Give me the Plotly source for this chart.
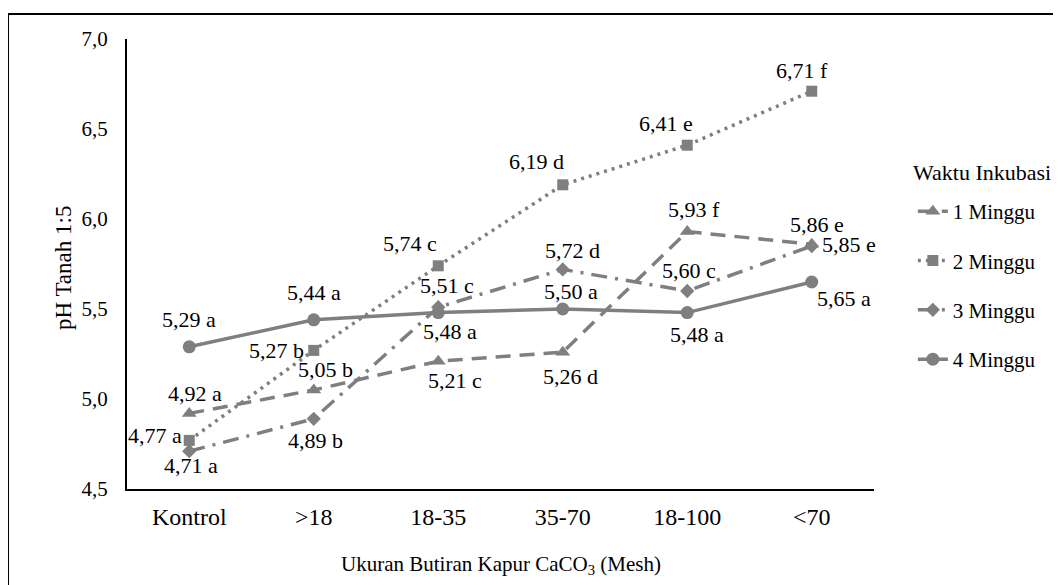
import plotly.graph_objects as go

categories = ["Kontrol", ">18", "18-35", "35-70", "18-100", "<70"]
series_names = ["1 Minggu", "2 Minggu", "3 Minggu", "4 Minggu"]

ph_1_minggu = [4.92, 5.05, 5.21, 5.26, 5.93, 5.86]
ph_2_minggu = [4.77, 5.27, 5.74, 6.19, 6.41, 6.71]
ph_3_minggu = [4.71, 4.89, 5.51, 5.72, 5.60, 5.85]
ph_4_minggu = [5.29, 5.44, 5.48, 5.50, 5.48, 5.65]

letters_1 = ["a", "b", "c", "d", "f", "e"]
letters_2 = ["a", "b", "c", "d", "e", "f"]
letters_3 = ["a", "b", "c", "d", "c", "e"]
letters_4 = ["a", "a", "a", "a", "a", "a"]

y_ticks = [4.5, 5.0, 5.5, 6.0, 6.5, 7.0]

# label offsets (pixels): (dx, dy up)
offsets = [
    [(6, 20), (12, 21), (17, -19), (8, -24), (7, 22), (5, 20)],
    [(-34, 5), (-37, 0), (-28, 22), (-26, 23), (-21, 22), (-10, 21)],
    [(2, -14), (2, -22), (9, 22), (10, 19), (2, 21), (37, 2)],
    [(0, 27), (0, 27), (12, -19), (8, 18), (10, -22), (32, -16)],
]

GRAY = "#7f7f7f"
FONT = "Liberation Serif"
FS = 21

styles = [
    dict(dash="15px,9px", symbol="triangle-up", size=13),
    dict(dash="3px,5px", symbol="square", size=11),
    dict(dash="16px,8px,3px,8px", symbol="diamond", size=11),
    dict(dash="solid", symbol="circle", size=13),
]

all_values = [ph_1_minggu, ph_2_minggu, ph_3_minggu, ph_4_minggu]
all_letters = [letters_1, letters_2, letters_3, letters_4]

fig = go.Figure()
annotations = []
for k, (name, vals, lets, st) in enumerate(zip(series_names, all_values, all_letters, styles)):
    fig.add_trace(go.Scatter(
        x=categories, y=vals, name=name, mode="lines+markers",
        legendgroup=name,
        line=dict(color=GRAY, width=3.5, dash=st["dash"]),
        marker=dict(color=GRAY, symbol=st["symbol"], size=st["size"]),
    ))
    for i, (c, v, l) in enumerate(zip(categories, vals, lets)):
        dx, dy = offsets[k][i]
        annotations.append(dict(
            x=c, y=v, xref="x", yref="y", text=f"{v:.2f}".replace(".", ",") + " " + l,
            showarrow=False, xshift=dx, yshift=dy,
            font=dict(family=FONT, size=22, color="black"),
        ))

annotations.append(dict(
    x=-0.0857, y=0.491, xref="paper", yref="paper", text="pH Tanah 1:5",
    textangle=-90, showarrow=False, xanchor="center", yanchor="middle",
    font=dict(family=FONT, size=23, color="black"),
))
annotations.append(dict(
    x=0.5, y=-0.169, xref="paper", yref="paper",
    text="Ukuran Butiran Kapur CaCO<sub>3</sub> (Mesh)",
    showarrow=False, xanchor="center", yanchor="middle",
    font=dict(family=FONT, size=FS, color="black"),
))
annotations.append(dict(
    x=1.1446, y=0.704, xref="paper", yref="paper", text="Waktu Inkubasi",
    showarrow=False, xanchor="center", yanchor="middle",
    font=dict(family=FONT, size=22, color="black"),
))

# page body has an 8px margin: plot area kept at reference pixels 127..874 x 39..489
fig.update_layout(
    width=1053, height=577,
    margin=dict(l=119, r=187, t=31, b=96, autoexpand=False),
    paper_bgcolor="white", plot_bgcolor="white",
    separators=",.",
    font=dict(family=FONT, size=FS, color="black"),
    annotations=annotations,
    showlegend=True,
    legend=dict(
        x=1.052, y=0.662, xanchor="left", yanchor="top",
        tracegroupgap=19,
        font=dict(family=FONT, size=FS, color="black"),
        bgcolor="rgba(0,0,0,0)",
    ),
    shapes=[dict(
        type="rect", xref="paper", yref="paper",
        x0=-0.1593, y0=1.0556, x1=1.26, y1=-0.23,
        line=dict(color="black", width=2),
    )],
)
fig.update_xaxes(
    type="category", range=[-0.5, 5.5], showline=True, linecolor="black", linewidth=2,
    showgrid=False, zeroline=False, ticks="", ticklabelstandoff=5,
    tickfont=dict(family=FONT, size=24, color="black"),
)
fig.update_yaxes(
    range=[4.5, 7.0], tickvals=y_ticks, tickformat=".1f", showline=True,
    linecolor="black", linewidth=2, showgrid=False, zeroline=False, ticks="",
    ticklabelstandoff=13, tickfont=dict(family=FONT, size=21, color="black"),
)

fig.write_html("out.html")
